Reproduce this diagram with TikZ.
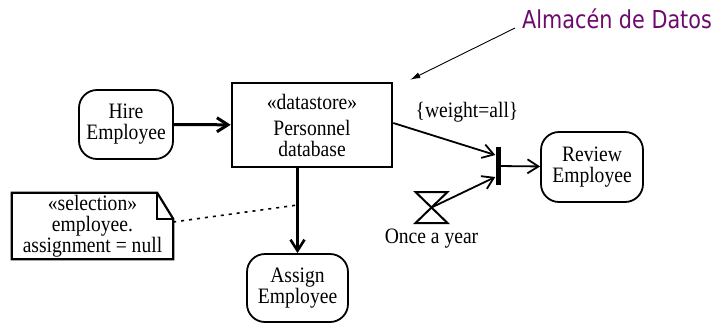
\documentclass[tikz,border=0pt]{standalone}
\usepackage{fontspec}
\setmainfont{Liberation Serif}
\newfontfamily\umlfont[FakeStretch=0.89]{Liberation Serif}
\newfontfamily\calloutfont[FakeStretch=0.84]{DejaVu Sans}
\usetikzlibrary{positioning,arrows.meta,calc}
\definecolor{deeppurple}{RGB}{110,10,110}

\begin{document}
\begin{tikzpicture}[x=1pt,y=-1pt,
  every node/.style={font=\umlfont\fontsize{22}{21}\selectfont,inner sep=0pt,align=center},
  action/.style={draw,line width=1.8pt,rounded corners=18pt},
  flow/.style={-{Straight Barb[length=11pt,width=14pt]},line width=1.8pt}]
\useasboundingbox (0,0) rectangle (717,325);
\node[action,minimum width=94pt,minimum height=69pt] (hire) at (126,124.5) {Hire\\Employee};
\node[draw,line width=2.6pt,minimum width=160pt,minimum height=84pt] (store) at (312,125) {«datastore»\\[5pt]Personnel\\database};
\node[action,minimum width=101pt,minimum height=68pt] (assign) at (297.5,288) {Assign\\Employee};
\node[action,minimum width=102pt,minimum height=70pt] (review) at (592,167) {Review\\Employee};
\node[fill=black,minimum width=5pt,minimum height=38pt] (join) at (498,166) {};
\node[minimum width=161pt,minimum height=66pt] (note) at (92.5,226) {«selection»\\employee.\hspace{1.6em}\\assignment = null};
\node (weight) at (467,112) {\{weight=all\}};
\coordinate (timer) at (431.5,207.5);
\node[below=21pt of timer] (yearly) {Once a year};
\node[anchor=base west,font=\calloutfont\fontsize{24.7}{26}\selectfont,text=deeppurple] (almacen) at (522,28) {Almacén de Datos};
\coordinate (storetip) at ([shift={(17,-2)}]store.north east);
\coordinate (tap) at (assign.north |- 0,205);
\draw[line width=2.2pt] (note.north west) -- ([xshift=-16pt]note.north east) -- ([yshift=-26pt]note.north east) -- (note.south east) -- (note.south west) -- cycle;
\draw[line width=1.6pt] ([xshift=-16pt]note.north east) |- ([yshift=-26pt]note.north east);
\draw[line width=2pt] ([shift={(-16,-15.5)}]timer) -- ([shift={(16,-15.5)}]timer) -- ([shift={(-16,15.5)}]timer) -- ([shift={(16,15.5)}]timer) -- cycle;
\draw[flow,line width=3pt] (hire) -- (store);
\draw[flow,line width=2.6pt] (assign.north |- store.south) -- (assign.north);
\draw[flow] ([yshift=2pt]store.east) -- ([yshift=11pt]join.west);
\draw[flow] (timer) -- ([yshift=-11pt]join.west);
\draw[flow] (join) -- (review);
\draw[line width=1.6pt,dash pattern=on 3pt off 5pt] ([yshift=4pt]note.east) -- (tap);
\draw[-{Latex[length=10pt,width=6pt]},line width=0.9pt] ([xshift=-7pt]almacen.base west) -- (storetip);
\end{tikzpicture}
\end{document}
